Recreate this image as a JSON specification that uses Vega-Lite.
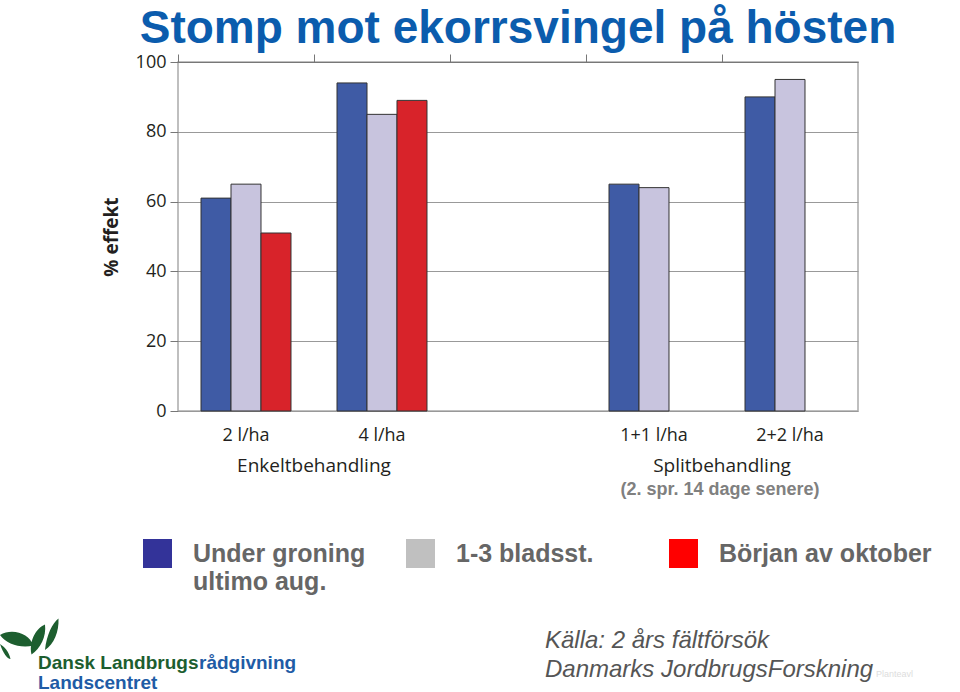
{
  "$schema": "https://vega.github.io/schema/vega-lite/v6.json",
  "width": 680,
  "height": 349,
  "autosize": {"type": "none"},
  "padding": {"left": 178, "top": 62, "right": 102, "bottom": 281},
  "background": "white",
  "title": {
    "text": "Stomp mot ekorrsvingel på hösten",
    "font": "Liberation Sans",
    "fontSize": 46,
    "fontWeight": "bold",
    "color": "#0b5cad",
    "anchor": "middle",
    "frame": "group",
    "baseline": "alphabetic",
    "offset": 14,
    "dy": 50
  },
  "config": {
    "view": {"stroke": "#aaaaaa", "strokeWidth": 1.5},
    "font": "Open Sans"
  },
  "datasets": {
    "bars": [
      {"group": "2 l/ha", "timing": "Under groning ultimo aug.", "value": 61},
      {"group": "2 l/ha", "timing": "1-3 bladsst.", "value": 65},
      {"group": "2 l/ha", "timing": "Början av oktober", "value": 51},
      {"group": "4 l/ha", "timing": "Under groning ultimo aug.", "value": 94},
      {"group": "4 l/ha", "timing": "1-3 bladsst.", "value": 85},
      {"group": "4 l/ha", "timing": "Början av oktober", "value": 89},
      {"group": "1+1 l/ha", "timing": "Under groning ultimo aug.", "value": 65},
      {"group": "1+1 l/ha", "timing": "1-3 bladsst.", "value": 64},
      {"group": "2+2 l/ha", "timing": "Under groning ultimo aug.", "value": 90},
      {"group": "2+2 l/ha", "timing": "1-3 bladsst.", "value": 95}
    ],
    "groupnotes": [
      {"group": "2 l/ha", "note": "Enkeltbehandling"},
      {"group": "1+1 l/ha", "note": "Splitbehandling"}
    ],
    "splitnote": [
      {"group": "1+1 l/ha", "note": "(2. spr. 14 dage senere)"}
    ]
  },
  "layer": [
    {
      "data": {"name": "bars"},
      "mark": {"type": "bar", "stroke": "#333333", "strokeWidth": 1},
      "encoding": {
        "x": {
          "field": "group",
          "type": "nominal",
          "sort": null,
          "scale": {"domain": ["2 l/ha", "4 l/ha", " ", "1+1 l/ha", "2+2 l/ha"], "paddingInner": 0, "paddingOuter": 0},
          "axis": {
            "title": null,
            "labelAngle": 0,
            "ticks": false,
            "tickSize": 0,
            "domain": false,
            "grid": false,
            "labelFontSize": 18,
            "labelPadding": 15,
            "labelColor": "#231f20",
            "labelFont": "Open Sans"
          }
        },
        "xOffset": {
          "field": "timing",
          "type": "nominal",
          "scale": {"domain": ["Under groning ultimo aug.", "1-3 bladsst.", "Början av oktober"], "paddingOuter": 0.767, "paddingInner": 0}
        },
        "y": {
          "field": "value",
          "type": "quantitative",
          "scale": {"domain": [0, 100], "nice": false},
          "axis": {
            "values": [0, 20, 40, 60, 80, 100],
            "grid": true,
            "gridColor": "#999999",
            "gridWidth": 1.2,
            "domain": false,
            "tickSize": 8,
            "tickColor": "#777777",
            "labelFontSize": 18,
            "labelPadding": 4,
            "labelColor": "#231f20",
            "labelFont": "Open Sans",
            "title": "% effekt",
            "titleFont": "Open Sans",
            "titleFontSize": 19,
            "titleFontWeight": "bold",
            "titleColor": "#231f20",
            "titlePadding": 14
          }
        },
        "fill": {
          "field": "timing",
          "type": "nominal",
          "scale": {
            "domain": ["Början av oktober", "1-3 bladsst.", "Under groning ultimo aug."],
            "range": ["#d8232a", "#c8c4de", "#3f5ba5"]
          },
          "legend": null
        }
      }
    },
    {
      "data": {"name": "bars"},
      "mark": {"type": "square", "filled": true, "opacity": 1, "size": 0, "strokeWidth": 0},
      "encoding": {
        "color": {
          "field": "timing",
          "type": "nominal",
          "scale": {
            "domain": ["Under groning ultimo aug.", "1-3 bladsst.", "Början av oktober"],
            "range": ["#333399", "#c0c0c0", "#ff0000"]
          },
          "legend": {
            "orient": "none",
            "legendX": -35,
            "legendY": 477,
            "direction": "horizontal",
            "columns": 3,
            "gridAlign": "all",
            "title": null,
            "padding": 0,
            "symbolType": "square",
            "symbolSize": 841,
            "symbolStrokeWidth": 0,
            "symbolOpacity": 1,
            "labelFont": "Liberation Sans",
            "labelFontSize": 25,
            "labelFontWeight": "bold",
            "labelColor": "#666666",
            "labelOffset": 21,
            "labelLimit": 400,
            "columnPadding": 0,
            "labelExpr": "datum.label == 'Under groning ultimo aug.' ? 'Under groning' : datum.label"
          }
        }
      }
    },
    {
      "data": {"name": "groupnotes"},
      "mark": {"type": "text", "y": {"expr": "height + 55"}, "fontSize": 19, "font": "Open Sans", "color": "#231f20", "align": "center", "baseline": "middle"},
      "encoding": {
        "x": {
          "field": "group",
          "type": "nominal",
          "bandPosition": 1,
          "axis": {
            "title": null,
            "labels": false,
            "bandPosition": 0,
            "ticks": true,
            "tickSize": 8,
            "tickColor": "#777777",
            "domain": true,
            "domainColor": "#777777",
            "domainWidth": 1.2,
            "grid": false
          }
        },
        "text": {"field": "note"}
      }
    },
    {
      "data": {"name": "splitnote"},
      "mark": {"type": "text", "y": {"expr": "height + 79"}, "fontSize": 18, "font": "Liberation Sans", "fontWeight": "bold", "color": "#808080", "align": "center", "baseline": "middle", "dx": -2},
      "encoding": {
        "x": {"field": "group", "type": "nominal", "bandPosition": 1, "axis": null},
        "text": {"field": "note"}
      }
    },
    {
      "data": {"values": [{}]},
      "mark": {"type": "text", "text": "ultimo aug.", "x": 15, "y": 528, "align": "left", "baseline": "alphabetic", "font": "Liberation Sans", "fontSize": 25, "fontWeight": "bold", "color": "#666666"},
      "encoding": {}
    },
    {
      "data": {"values": [{}]},
      "mark": {"type": "text", "text": "Källa: 2 års fältförsök", "x": 367, "y": 586, "align": "left", "baseline": "alphabetic", "font": "Liberation Sans", "fontSize": 24, "fontStyle": "italic", "color": "#555555"},
      "encoding": {}
    },
    {
      "data": {"values": [{}]},
      "mark": {"type": "text", "text": "Danmarks JordbrugsForskning", "x": 367, "y": 615, "align": "left", "baseline": "alphabetic", "font": "Liberation Sans", "fontSize": 24, "fontStyle": "italic", "color": "#555555"},
      "encoding": {}
    },
    {
      "data": {"values": [{}]},
      "mark": {"type": "text", "text": "Planteavl", "x": 698, "y": 615, "align": "left", "baseline": "alphabetic", "font": "Liberation Sans", "fontSize": 9, "color": "#dddddd"},
      "encoding": {}
    },
    {
      "data": {"values": [{}]},
      "mark": {"type": "text", "text": "Dansk Landbrugs", "x": -140, "y": 607, "align": "left", "baseline": "alphabetic", "font": "Liberation Sans", "fontSize": 19, "fontWeight": "bold", "color": "#1d5e2f"},
      "encoding": {}
    },
    {
      "data": {"values": [{}]},
      "mark": {"type": "text", "text": "rådgivning", "x": 21, "y": 607, "align": "left", "baseline": "alphabetic", "font": "Liberation Sans", "fontSize": 19, "fontWeight": "bold", "color": "#1f5ca6"},
      "encoding": {}
    },
    {
      "data": {"values": [{}]},
      "mark": {"type": "text", "text": "Landscentret", "x": -140, "y": 627, "align": "left", "baseline": "alphabetic", "font": "Liberation Sans", "fontSize": 19, "fontWeight": "bold", "color": "#1f5ca6"},
      "encoding": {}
    },
    {
      "data": {"values": [{}]},
      "mark": {
        "type": "point",
        "x": -148,
        "y": 579,
        "size": 3600,
        "filled": true,
        "opacity": 1,
        "color": "#1d5e2f",
        "shape": "M -1 -0.2 C -0.6 -0.45 0.0 -0.25 0.1 0.15 C -0.3 0.25 -0.8 0.1 -1 -0.2 Z M -1 0.1 C -0.9 0.4 -0.75 0.6 -0.65 0.6 C -0.7 0.35 -0.85 0.2 -1 0.1 Z M 0.05 0.45 C -0.05 -0.05 0.25 -0.45 0.5 -0.55 C 0.55 -0.15 0.35 0.25 0.05 0.45 Z M 0.5 0.3 C 0.55 -0.2 0.75 -0.6 0.95 -0.75 C 0.97 -0.3 0.8 0.1 0.5 0.3 Z"
      },
      "encoding": {}
    }
  ],
  "resolve": {"axis": {"x": "independent"}}
}
